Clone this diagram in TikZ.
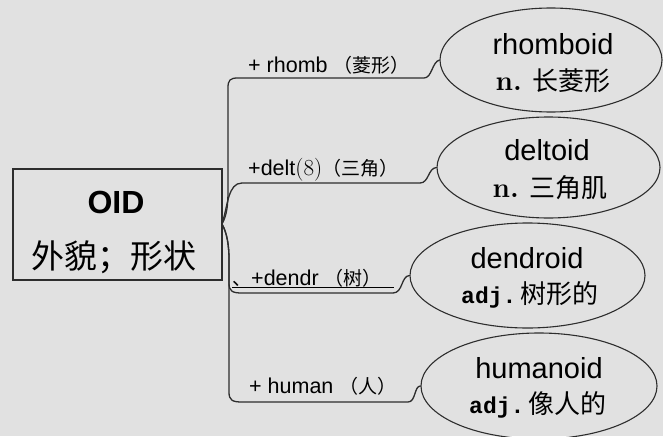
\documentclass[tikz,border=0pt]{standalone}
\usepackage{fontspec}
\usetikzlibrary{shapes.geometric}
\newfontfamily\arl{Liberation Sans}
\newfontfamily\cjk{Noto Sans CJK SC}
\newfontfamily\mono{Liberation Mono}
\definecolor{bg}{RGB}{225,225,225}
\definecolor{ink}{RGB}{45,45,45}
\newcommand{\lcn}[1]{{\cjk\fontsize{19}{19}\selectfont #1}}
\begin{document}
\begin{tikzpicture}[x=1pt,y=-1pt,
  ell/.style={draw=ink,line width=1.1pt,ellipse,inner sep=0pt},
  word/.style={anchor=base,inner sep=0pt,font=\arl\fontsize{29}{29}\selectfont},
  gloss/.style={anchor=base,inner sep=0pt,font=\fontsize{26}{26}\selectfont},
  lab/.style={anchor=base west,inner sep=0pt,font=\arl\fontsize{21.5}{21.5}\selectfont},
  conn/.style={draw=ink,line width=1.3pt,line cap=round,line join=round}]
\fill[bg] (0,0) rectangle (663,436);
\useasboundingbox (0,0) rectangle (663,436);
% central box
\node[draw=ink,line width=1.6pt,fill=bg,minimum width=209pt,minimum height=111pt,inner sep=0pt] (box) at (117.5,224.5) {};
\node[anchor=base,inner sep=0pt,font=\arl\bfseries\fontsize{32}{32}\selectfont] (oid) at (116,213) {OID};
\node[anchor=base,inner sep=0pt,font=\cjk\fontsize{33}{33}\selectfont] (oidcn) at (114,268) {外貌；形状};
\coordinate (root) at (222,224);
% ellipses
\node[ell,minimum width=222pt,minimum height=104pt] (e1) at (551,60) {};
\node[ell,minimum width=223pt,minimum height=101pt] (e2) at (548.5,167.5) {};
\node[ell,minimum width=235pt,minimum height=105pt] (e3) at (527.5,275.5) {};
\node[ell,minimum width=236pt,minimum height=106pt] (e4) at (539,386) {};
% ellipse texts
\node[word] (w1) at (553,55) {rhomboid};
\node[gloss] (g1) at (553,90) {{\rmfamily\bfseries\fontsize{28}{28}\selectfont n.} {\cjk 长菱形}};
\node[word] (w2) at (547,160) {deltoid};
\node[gloss] (g2) at (550,197) {{\rmfamily\bfseries\fontsize{28}{28}\selectfont n.} {\cjk 三角肌}};
\node[word] (w3) at (527,268) {dendroid};
\node[gloss] (g3) at (530,303) {{\mono\bfseries\fontsize{23}{23}\selectfont adj.}\,{\cjk 树形的}};
\node[word] (w4) at (539,378) {humanoid};
\node[gloss] (g4) at (538,413) {{\mono\bfseries\fontsize{23}{23}\selectfont adj.}\,{\cjk 像人的}};
% branch labels
\node[lab] (l1) at (248,72) {+ rhomb \lcn{（菱形）}};
\node[lab] (l2) at (248,175) {+delt{\rmfamily\fontsize{23}{23}\selectfont(8)}\lcn{（三角）}};
\node[lab] (l3) at (232,285) {\lcn{、}+dendr \lcn{（树）}};
\node[lab] (l4) at (249,393) {+ human \lcn{（人）}};
\coordinate (ulA) at (232,287.5);
\coordinate (ulB) at (394,287.5);
\draw[black,line width=1pt] (ulA) -- (ulB);
% connectors
\draw[conn] (root) .. controls (227,215) and (228,205) .. (228,190) -- (228,88)
  .. controls (228,80) and (230,78) .. (238,78) -- (424,78)
  .. controls (432,78) and (432,62) .. (e1.west);
\draw[conn] (root) .. controls (228,205) and (228,183) .. (242,183) -- (420,183)
  .. controls (429,183) and (428,168) .. (e2.west);
\draw[conn] (root) .. controls (227,233) and (229,245) .. (229,260) -- (229,283)
  .. controls (229,291) and (232,293) .. (242,293) -- (393,293)
  .. controls (403,293) and (401,276) .. (e3.west);
\draw[conn] (root) .. controls (227,233) and (229,245) .. (229,260) -- (229,392)
  .. controls (229,400) and (232,402) .. (242,402) -- (408,402)
  .. controls (416,402) and (414,386) .. (e4.west);
\end{tikzpicture}
\end{document}
